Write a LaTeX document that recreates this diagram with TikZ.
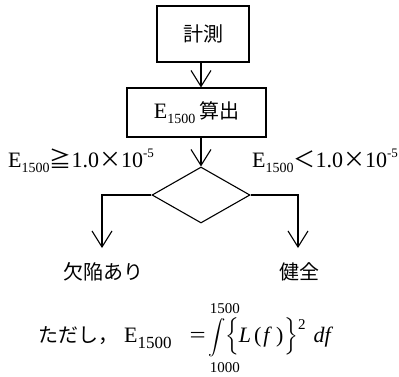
\documentclass[tikz,border=0pt]{standalone}
\usepackage{fontspec}
\usepackage{amsmath}
\setmainfont{Liberation Serif}
\newfontfamily\jp{Noto Sans CJK JP}
\usetikzlibrary{arrows.meta,shapes.geometric}
\newcommand{\lat}{\normalfont\fontsize{22}{26}\selectfont}
\newcommand{\jpt}{\jp\fontsize{20}{24}\selectfont}
\newcommand{\limsz}{\fontsize{15}{15}\selectfont}
\newcommand{\Esub}{E\raisebox{-0.22em}{\fontsize{14}{14}\selectfont 1500}}
\newcommand{\cond}[1]{\lat\Esub{\jp #1}1.0{\jp ×}10\raisebox{0.45em}{\fontsize{13}{13}\selectfont -5}}
\begin{document}
\begin{tikzpicture}[x=1pt,y=-1pt,
  lw/.style={line width=1.1pt},
  box/.style={draw,lw,inner sep=0pt},
  dia/.style={diamond,draw,lw,inner sep=0pt,minimum width=98pt,minimum height=56pt,aspect=1.75},
  arr/.style={lw,-{Straight Barb[length=16pt,width=20pt,line width=1.1pt]}},
  lbl/.style={inner sep=0pt}]
\useasboundingbox (0,0) rectangle (399,376);
\node[box,minimum width=92pt,minimum height=56pt] (m1) at (203,34) {\jpt 計測};
\node[box,minimum width=139pt,minimum height=49pt] (m2) at (196.5,112.5) {\lat\Esub\,\jpt 算出};
\node[dia] (d) at (201,195) {};
\coordinate (cl) at (102,248);
\coordinate (cr) at (298,248);
\draw[arr] (m1.south -| d.north) -- (d.north |- m2.north);
\draw[arr] (m2.south -| d.north) -- (d.north);
\draw[arr] (d.west) -| (cl);
\draw[arr] (d.east) -| (cr);
\node[lbl,anchor=west] (lc) at (8,161) {\cond{≧}};
\node[lbl,anchor=west] (rc) at (252,161) {\cond{＜}};
\node[lbl] (no) at (103,272) {\jpt 欠陥あり};
\node[lbl] (ok) at (299,272) {\jpt 健全};
\node[lbl,anchor=base west] (f) at (38,342) {{\jpt ただし，}\lat\hspace{6pt}E\raisebox{-0.3em}{\fontsize{17}{17}\selectfont 1500}\hspace{18pt}\scalebox{1.3}[1]{=}\hspace{3pt}\rlap{\hspace{1pt}\raisebox{29pt}{\limsz 1500}}\rlap{\hspace{1pt}\raisebox{-30pt}{\limsz 1000}}{\fontsize{19}{19}\selectfont$\displaystyle\int$}\hspace{-1pt}$\Bigl\{$\textit{L}\kern3pt(\kern2pt\textit{f}\kern4pt)\kern1pt$\Bigr\}$\raisebox{0.55em}{\limsz 2}\hspace{8pt}\textit{df}};
\end{tikzpicture}
\end{document}
